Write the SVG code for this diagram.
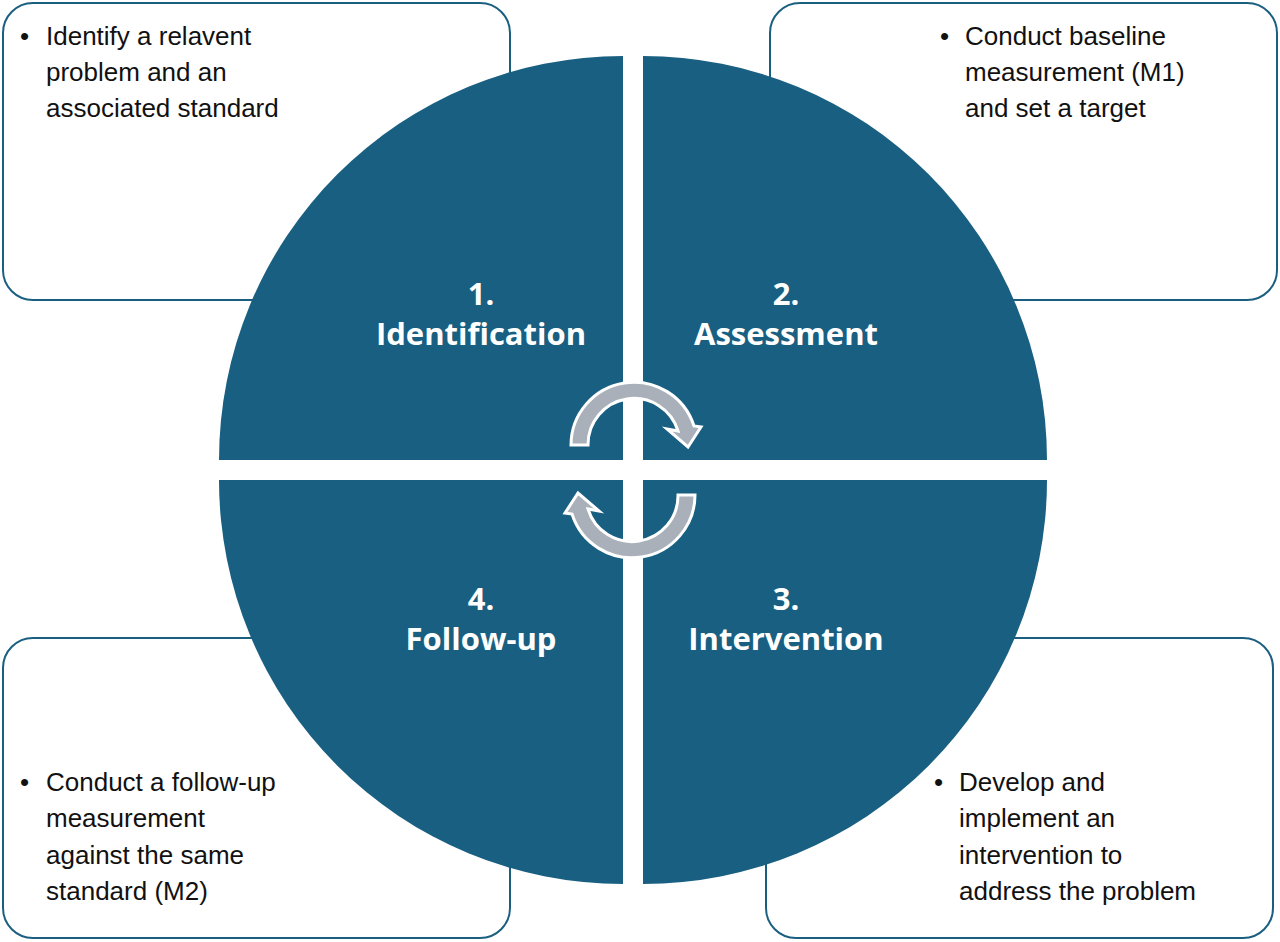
<svg xmlns="http://www.w3.org/2000/svg" width="1280" height="942" viewBox="0 0 1280 942">
<style>
.box{fill:#fff;stroke:#1b5f80;stroke-width:2}
.q{fill:#185f81}
.t{font-family:"Liberation Sans",Arial,sans-serif;font-size:26px;fill:#111}
.h{font-family:"Open Sans","Liberation Sans",sans-serif;font-size:31px;font-weight:bold;fill:#fff;text-anchor:middle}
.arr{fill:#a9b0ba;stroke:#fff;stroke-width:3;stroke-linejoin:miter}
</style>
<rect width="1280" height="942" fill="#fff"/>
<g id="box1"><rect class="box" x="3" y="3" width="507" height="297" rx="30"/>
<text class="t"><tspan x="20" y="45">•</tspan><tspan x="46" y="45">Identify a relavent</tspan><tspan x="46" y="81">problem and an</tspan><tspan x="46" y="117">associated standard</tspan></text></g>
<g id="box2"><rect class="box" x="770" y="3" width="507" height="297" rx="30"/>
<text class="t"><tspan x="940" y="45">•</tspan><tspan x="965" y="45">Conduct baseline</tspan><tspan x="965" y="81">measurement (M1)</tspan><tspan x="965" y="117">and set a target</tspan></text></g>
<g id="box4"><rect class="box" x="3" y="638" width="507" height="300" rx="30"/>
<text class="t"><tspan x="20" y="791">•</tspan><tspan x="46" y="791">Conduct a follow-up</tspan><tspan x="46" y="827">measurement</tspan><tspan x="46" y="864">against the same</tspan><tspan x="46" y="900">standard (M2)</tspan></text></g>
<g id="box3"><rect class="box" x="766" y="638" width="507" height="300" rx="30"/>
<text class="t"><tspan x="934" y="791">•</tspan><tspan x="959" y="791">Develop and</tspan><tspan x="959" y="827">implement an</tspan><tspan x="959" y="864">intervention to</tspan><tspan x="959" y="900">address the problem</tspan></text></g>
<g id="q1"><path class="q" d="M623,460 L219,460 A404,404 0 0 1 623,56 Z"/>
<text class="h"><tspan x="481" y="305">1.</tspan><tspan x="481" y="345">Identification</tspan></text></g>
<g id="q2"><path class="q" d="M643,460 L643,56 A404,404 0 0 1 1047,460 Z"/>
<text class="h"><tspan x="786" y="305">2.</tspan><tspan x="786" y="345">Assessment</tspan></text></g>
<g id="q3"><path class="q" d="M643,480 L1047,480 A404,404 0 0 1 643,884 Z"/>
<text class="h"><tspan x="786" y="610">3.</tspan><tspan x="786" y="650">Intervention</tspan></text></g>
<g id="q4"><path class="q" d="M623,480 L623,884 A404,404 0 0 1 219,480 Z"/>
<text class="h"><tspan x="481" y="610">4.</tspan><tspan x="481" y="650">Follow-up</tspan></text></g>
<g id="connectors">
<path class="arr" d="M571,445 A63,63 0 0 1 694,426 L701,427 L688,447 L667,429 L678,431 A46,46 0 0 0 588,445 Z"/>
<path class="arr" transform="rotate(180 633 470)" d="M571,445 A63,63 0 0 1 694,426 L701,427 L688,447 L667,429 L678,431 A46,46 0 0 0 588,445 Z"/>
</g>
</svg>
